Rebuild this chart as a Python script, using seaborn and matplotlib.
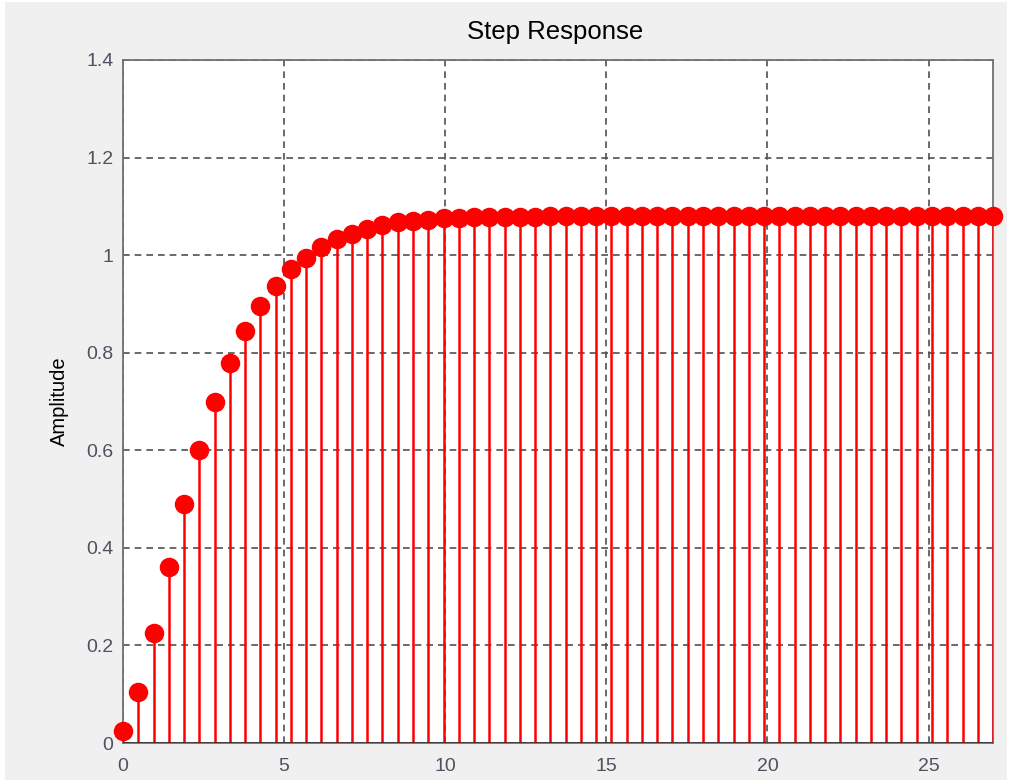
import numpy as np
import pandas as pd
import matplotlib
matplotlib.use("Agg")
import matplotlib.pyplot as plt
from matplotlib.patches import Rectangle
import seaborn as sns

# Discrete step response samples
sample_time = 0.4737
amplitude = [
    0.025, 0.105, 0.225, 0.361, 0.489, 0.600, 0.699, 0.779, 0.844, 0.896,
    0.937, 0.971, 0.995, 1.017, 1.033, 1.044, 1.054, 1.061, 1.067, 1.071,
    1.073, 1.076, 1.077, 1.078, 1.078, 1.079, 1.079, 1.079, 1.080, 1.080,
    1.080, 1.080, 1.080, 1.080, 1.080, 1.080, 1.080, 1.080, 1.080, 1.080,
    1.080, 1.080, 1.080, 1.080, 1.080, 1.080, 1.080, 1.080, 1.080, 1.080,
    1.080, 1.080, 1.080, 1.080, 1.080, 1.080, 1.080, 1.080,
]
time = np.arange(len(amplitude)) * sample_time

x_ticks = [0, 5, 10, 15, 20, 25]
y_ticks = [0, 0.2, 0.4, 0.6, 0.8, 1.0, 1.2, 1.4]
y_tick_labels = ["0", "0.2", "0.4", "0.6", "0.8", "1", "1.2", "1.4"]

df = pd.DataFrame({"Time": time, "Amplitude": amplitude})

sns.set_style("white")
plt.rcParams["font.family"] = ["Liberation Sans", "DejaVu Sans"]

fig = plt.figure(figsize=(10.09, 7.80), dpi=100, facecolor="white")
panel = Rectangle((5 / 1009, 0.0), 1002 / 1009, 778 / 780,
                  transform=fig.transFigure, facecolor="#f0f0f0",
                  edgecolor="none", zorder=-10)
fig.add_artist(panel)
ax = fig.add_axes([123 / 1009, 1 - 743 / 780, (993 - 123) / 1009, (743 - 60) / 780])
ax.set_zorder(1)
ax.set_facecolor("white")

# stems
ax.vlines(df["Time"], 0, df["Amplitude"], color="#ff0000", linewidth=1.8, zorder=3)
# markers
sns.scatterplot(data=df, x="Time", y="Amplitude", ax=ax, color="#ff0000",
                s=170, edgecolor="#ff0000", linewidth=1.0, zorder=4, clip_on=False)
# baseline
ax.axhline(0, color="#303030", linewidth=1.8, zorder=5)

ax.set_xlim(0, 27)
ax.set_ylim(0, 1.4)
ax.set_xticks(x_ticks)
ax.set_xticklabels([str(v) for v in x_ticks])
ax.set_yticks(y_ticks)
ax.set_yticklabels(y_tick_labels)

ax.grid(True, color="#505050", linestyle=(0, (4, 3)), linewidth=1.2, zorder=1)
ax.set_axisbelow(True)

for side in ["left", "right", "top", "bottom"]:
    ax.spines[side].set_visible(True)
    ax.spines[side].set_color("#707070")
    ax.spines[side].set_linewidth(1.3)

ax.tick_params(axis="both", direction="in", length=6, width=1.0, color="#505050",
               labelsize=14, labelcolor="#505060", pad=7)
ax.tick_params(axis="x", pad=11)

ax.set_xlabel("")
ax.set_ylabel("Amplitude", fontsize=14.5, color="black", labelpad=12)
ax.set_title("Step Response", fontsize=18.5, color="black", pad=15, x=0.497)

fig.savefig("out.png", dpi=100, facecolor=fig.get_facecolor())
